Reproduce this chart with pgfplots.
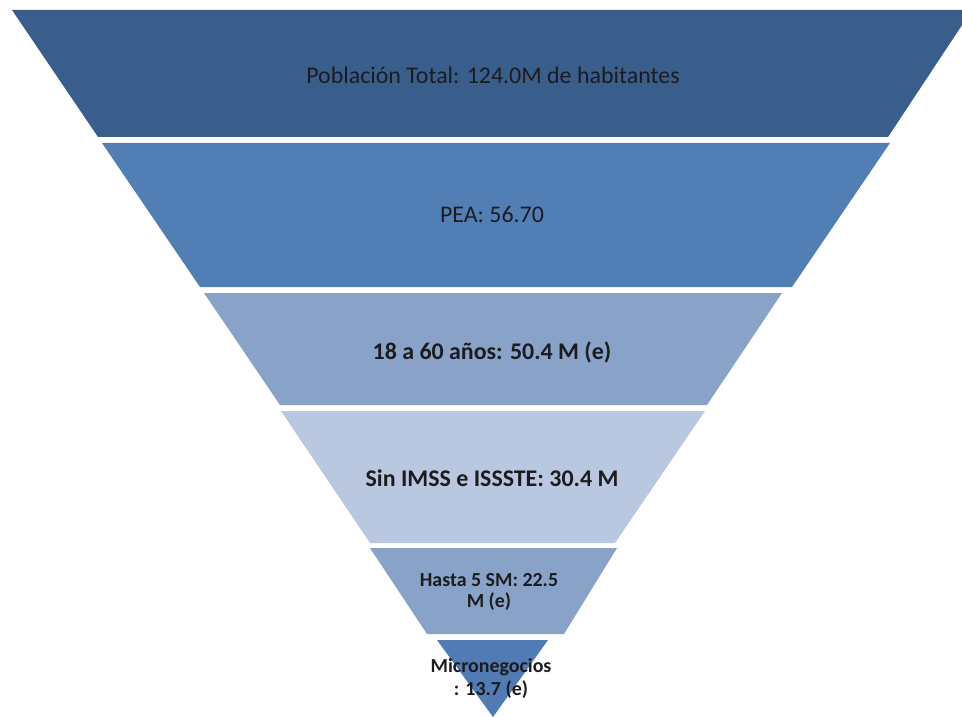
\documentclass[border=0pt]{standalone}
\usepackage{pgfplots}
\pgfplotsset{compat=1.18}
\usepackage{pgfplotstable}
\usepackage{fontspec}
\setmainfont{Carlito}

\definecolor{band1}{RGB}{58,94,140}
\definecolor{band2}{RGB}{82,126,182}
\definecolor{band3}{RGB}{137,162,200}
\definecolor{band4}{RGB}{186,199,224}
\definecolor{band5}{RGB}{137,162,200}
\definecolor{band6}{RGB}{80,123,180}
\definecolor{txt}{RGB}{28,28,30}

% label positions (pixel units, y downwards)
\pgfplotstableread[col sep=comma]{
x,y,label
493,75,Población Total: 124.0M de habitantes
492,215,PEA: 56.70
}\labelsnormal
\pgfplotstableread[col sep=comma]{
x,y,label
492,352,18 a 60 años: 50.4 M (e)
492,478,Sin IMSS e ISSSTE: 30.4 M
}\labelsbold
\pgfplotstableread[col sep=comma]{
x,y,label
489,580,Hasta 5 SM: 22.5
489,602,M (e)
491,667,Micronegocios
491,690,: 13.7 (e)
}\labelssmall

\begin{document}
\begin{tikzpicture}
\begin{axis}[
    width=962bp, height=717bp,
    scale only axis,
    xmin=0, xmax=962,
    ymin=0, ymax=717,
    y dir=reverse,
    hide axis,
    clip=true,
    nodes near coords style={anchor=center, text=txt, inner sep=0pt},
]
% white page background, keeps the full frame
\addplot[fill=white, draw=none] coordinates {(0,0) (962,0) (962,717) (0,717)};
% funnel bands: 124.0, 56.70, 50.4, 30.4, 22.5, 13.7
\addplot[fill=band1, draw=none] coordinates {(12,10) (972,10) (888,137) (98,137)};
\addplot[fill=band2, draw=none] coordinates {(102,143) (890,143) (792,287) (200,287)};
\addplot[fill=band3, draw=none] coordinates {(204,293) (782,293) (707,405) (280,405)};
\addplot[fill=band4, draw=none] coordinates {(281,411) (705,411) (615,543) (370,543)};
\addplot[fill=band5, draw=none] coordinates {(370,548) (617,548) (564,634) (427,634)};
\addplot[fill=band6, draw=none] coordinates {(437,640) (548,640) (493,717)};

\addplot[only marks, mark=none, nodes near coords, point meta=explicit symbolic,
    nodes near coords style={font=\fontsize{24}{28}\selectfont}]
    table[x=x, y=y, meta=label] {\labelsnormal};
\addplot[only marks, mark=none, nodes near coords, point meta=explicit symbolic,
    nodes near coords style={font=\fontsize{24}{28}\selectfont\bfseries}]
    table[x=x, y=y, meta=label] {\labelsbold};
\addplot[only marks, mark=none, nodes near coords, point meta=explicit symbolic,
    nodes near coords style={font=\fontsize{20}{24}\selectfont\bfseries}]
    table[x=x, y=y, meta=label] {\labelssmall};
\end{axis}
\end{tikzpicture}
\end{document}
